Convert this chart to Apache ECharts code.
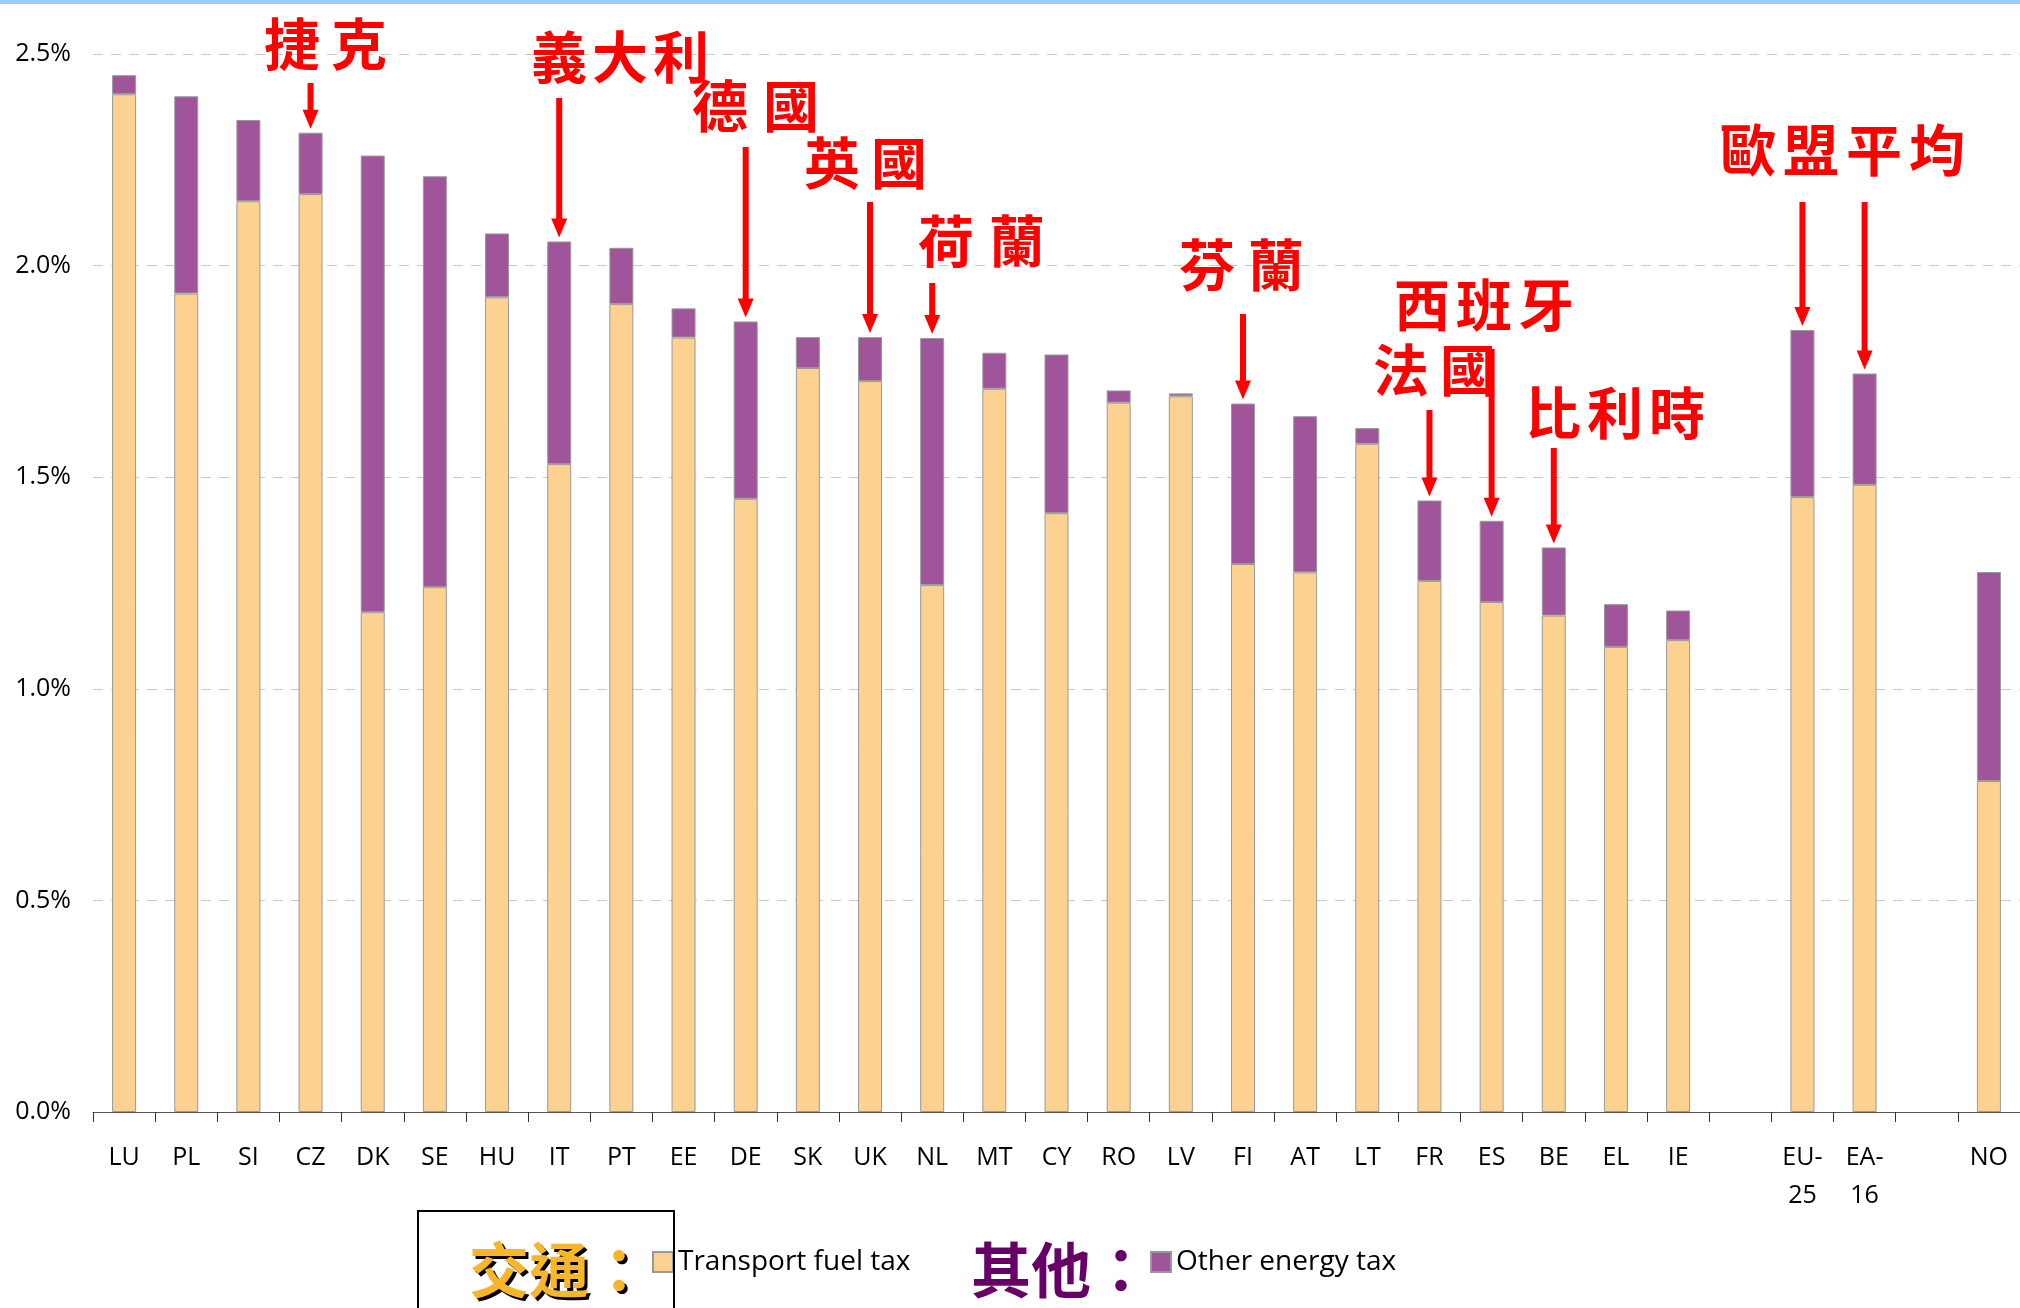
<!DOCTYPE html>
<html><head><meta charset="utf-8">
<script src="https://cdn.jsdelivr.net/npm/echarts@6/dist/echarts.min.js"></script>
<style>html,body{margin:0;padding:0;background:#fff}#c{width:2020px;height:1308px}</style>
</head><body><div id="c"></div>
<script>
// ---- data ----
const categories = ['LU','PL','SI','CZ','DK','SE','HU','IT','PT','EE','DE','SK','UK','NL','MT','CY','RO','LV','FI','AT','LT','FR','ES','BE','EL','IE','','EU-25','EA-16','','NO'];
const transportFuelTax = [2.405,1.934,2.152,2.169,1.181,1.240,1.925,1.531,1.909,1.830,1.449,1.758,1.727,1.245,1.709,1.415,1.676,1.691,1.295,1.275,1.579,1.255,1.205,1.173,1.099,1.115,null,1.453,1.482,null,0.782];
const otherEnergyTax   = [0.045,0.466,0.192,0.145,1.079,0.971,0.151,0.526,0.133,0.069,0.419,0.073,0.104,0.584,0.085,0.375,0.029,0.007,0.379,0.369,0.037,0.190,0.192,0.161,0.101,0.070,null,0.395,0.263,null,0.494];
const seriesNames = ['Transport fuel tax','Other energy tax'];
const legendLabelsCJK = ['交通：','其他：'];
// annotation texts and the bars they point at (layout kept separately below)
const annotationLabels = ['捷克','義大利','德國','英國','荷蘭','芬蘭','西班牙','法國','比利時','歐盟平均'];
const annotationTargets = [['CZ'],['IT'],['DE'],['UK'],['NL'],['FI'],['ES'],['FR'],['BE'],['EU-25','EA-16']];

// ---- layout ----
const annotationLayout = [
  {x:264, y:44, adv:67, arrowTop:[83]},
  {x:531, y:57, adv:61, arrowTop:[98]},
  {x:692, y:106, adv:71, arrowTop:[147]},
  {x:804, y:163, adv:67, arrowTop:[202]},
  {x:918, y:241, adv:71, arrowTop:[283]},
  {x:1179, y:265, adv:69, arrowTop:[314]},
  {x:1394, y:305, adv:62, arrowTop:[349]},
  {x:1373, y:370, adv:67, arrowTop:[410]},
  {x:1525, y:413, adv:62, arrowTop:[448]},
  {x:1720, y:150, adv:63, arrowTop:[202,202]}
];
const FONT = '"Open Sans", "Noto Sans", sans-serif';
const CJK = '"Noto Sans CJK TC", "Noto Sans CJK SC", sans-serif';
const ORANGE = '#FDD290', PURPLE = '#A0559A';

const chart = echarts.init(document.getElementById('c'));
const option = {
  backgroundColor: '#fff',
  animation: false,
  grid: {left: 93, top: 54, width: 1932, height: 1058, containLabel: false},
  xAxis: {
    type: 'category', data: categories,
    axisLine: {lineStyle: {color: '#555', width: 1}},
    axisTick: {show: true, length: 10, lineStyle: {color: '#333'}},
    axisLabel: {color: '#000', fontFamily: FONT, fontSize: 25, lineHeight: 38, margin: 27, interval: 0,
      formatter: v => v.replace('-', '-\n')}
  },
  yAxis: {
    type: 'value', min: 0, max: 2.5, interval: 0.5,
    axisLine: {show: false}, axisTick: {show: false},
    axisLabel: {color: '#000', fontFamily: FONT, fontSize: 25, margin: 22, formatter: v => v.toFixed(1) + '%'},
    splitLine: {lineStyle: {color: '#c8c8c8', width: 1, type: [10, 8]}}
  },
  legend: [
    {data: [seriesNames[0]], left: 652, top: 1247, padding: 0, itemWidth: 20, itemHeight: 20, icon: 'rect', selectedMode: false,
      textStyle: {color: '#000', fontFamily: FONT, fontSize: 28, lineHeight: 30}},
    {data: [seriesNames[1]], left: 1150, top: 1247, padding: 0, itemWidth: 20, itemHeight: 20, icon: 'rect', selectedMode: false,
      textStyle: {color: '#000', fontFamily: FONT, fontSize: 28, lineHeight: 30}}
  ],
  series: [
    {name: seriesNames[0], type: 'bar', stack: 't', data: transportFuelTax, barWidth: 24,
      itemStyle: {color: ORANGE, borderColor: '#999', borderWidth: 1}},
    {name: seriesNames[1], type: 'bar', stack: 't', data: otherEnergyTax, barWidth: 24,
      itemStyle: {color: PURPLE, borderColor: '#999', borderWidth: 1}}
  ]
};
chart.setOption(option);

function txt(x, y, s, fill, font, extra) {
  return Object.assign({type: 'text', x: x, y: y, z: 100,
    style: {text: s, fill: fill, font: font, textAlign: 'left', align: 'left', textVerticalAlign: 'middle', verticalAlign: 'middle'}}, extra || {});
}
const g = [];
g.push({type: 'rect', shape: {x: 0, y: 0, width: 2020, height: 4}, style: {fill: '#99ccff'}, z: 100});
g.push({type: 'rect', shape: {x: 418, y: 1211, width: 256, height: 110}, style: {fill: 'none', stroke: '#000', lineWidth: 2}, z: 100});
g.push(txt(472, 1273, legendLabelsCJK[0], '#000', 'bold 60px ' + CJK));
g.push(txt(469, 1270, legendLabelsCJK[0], '#F7B52C', 'bold 60px ' + CJK));
g.push(txt(971, 1270, legendLabelsCJK[1], '#660066', 'bold 60px ' + CJK));

annotationLabels.forEach((label, k) => {
  const L = annotationLayout[k];
  Array.from(label).forEach((ch, i) => g.push(txt(L.x + i * L.adv, L.y, ch, '#ff0000', 'bold 56px ' + CJK)));
  annotationTargets[k].forEach((cat, j) => {
    const i = categories.indexOf(cat);
    const total = transportFuelTax[i] + otherEnergyTax[i];
    const p = chart.convertToPixel({gridIndex: 0}, [i, total]);
    const px = p[0], tip = p[1] - 4;
    g.push({type: 'line', z: 100, shape: {x1: px, y1: L.arrowTop[j], x2: px, y2: tip - 14}, style: {stroke: '#ff0000', lineWidth: 6}});
    g.push({type: 'polygon', z: 100, shape: {points: [[px - 8, tip - 19], [px + 8, tip - 19], [px, tip]]}, style: {fill: '#ff0000'}});
  });
});
chart.setOption({graphic: g});
</script></body></html>
